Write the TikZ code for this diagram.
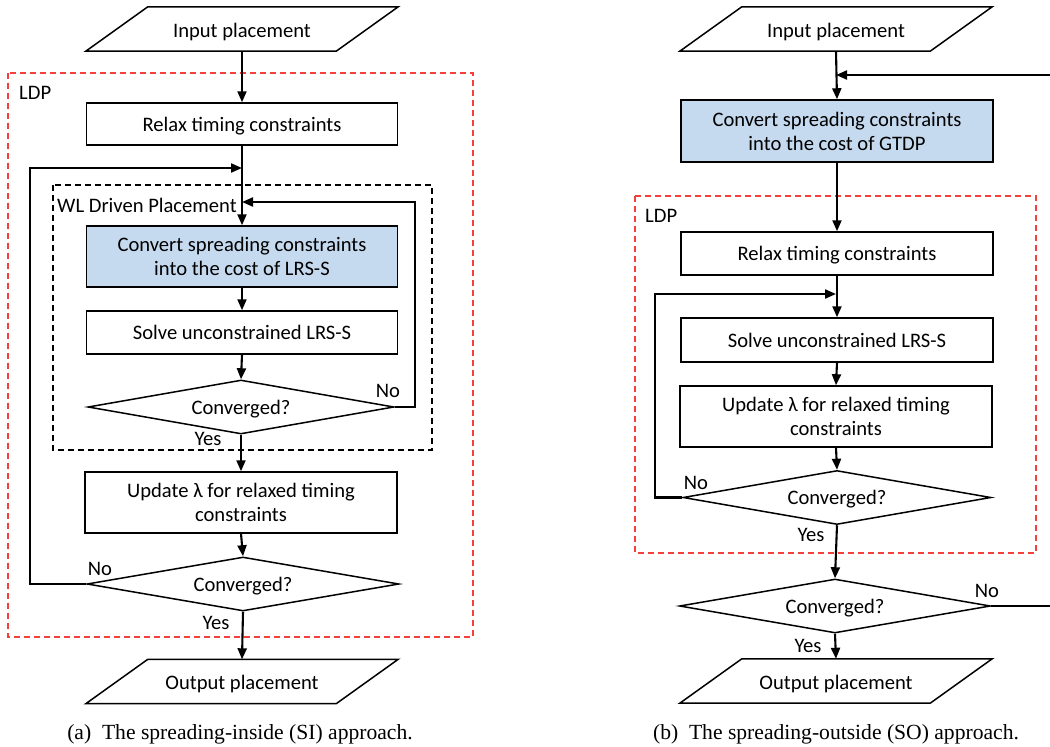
\documentclass[tikz,border=0pt]{standalone}
\usepackage{fontspec}
\setmainfont{Carlito}
\newfontfamily\capfont{Liberation Serif}
\usetikzlibrary{arrows.meta,calc,shapes.geometric}
\definecolor{boxblue}{RGB}{198,218,239}
\definecolor{ldpred}{RGB}{243,64,58}
\begin{document}
\begin{tikzpicture}[x=1pt,y=-1pt,
  font=\fontsize{20.6}{24}\selectfont,
  proc/.style={draw, line width=1.5pt, minimum width=311pt, align=center, inner sep=0pt, text depth=0pt},
  twoline/.style={execute at begin node={\rule{0pt}{20pt}}},
  bluebox/.style={proc, fill=boxblue},
  dec/.style={draw, line width=1.5pt, diamond, aspect=5.7, inner sep=0pt, text depth=0pt, minimum width=308pt, minimum height=54pt},
  io/.style={minimum width=250pt, minimum height=44pt, inner sep=0pt, text depth=0pt},
  para/.style={line width=1.5pt, line join=miter},
  arr/.style={line width=2.1pt, -{Triangle[length=11pt,width=9pt]}},
  ln/.style={line width=2.1pt},
  ldp/.style={draw=ldpred, line width=1.5pt, dash pattern=on 6pt off 4pt},
  wl/.style={draw=black, line width=1.4pt, dash pattern=on 6pt off 4pt},
  lbl/.style={inner sep=0pt},
  figcap/.style={font=\capfont\fontsize{21.6}{24}\selectfont, inner sep=0pt}
]
\useasboundingbox (0,0) rectangle (1050,747);

% ---------------- (a) ----------------
\draw[ldp] (8,73) rectangle (473,637);
\node[lbl, anchor=west] (ldpA) at (19,93) {LDP};
\draw[wl] (53,185) rectangle (432,450);
\node[lbl, anchor=west] (wlA) at (57,205) {WL Driven Placement};

\node[io] (inA) at (242,30) {Input placement};
\draw[para] ($(inA.north west)+(31,-1)$) -- ($(inA.north east)+(31,-1)$) -- ($(inA.south east)+(-31,-1)$) -- ($(inA.south west)+(-31,-1)$) -- cycle;
\node[proc, minimum height=42pt] (relaxA) at (242,124) {Relax timing constraints};
\node[bluebox, twoline, minimum height=61pt] (convA) at (242,256.5) {Convert spreading constraints\\into the cost of LRS-S};
\node[proc, minimum height=43pt] (solveA) at (242,332.5) {Solve unconstrained LRS-S};
\node[dec, minimum width=306pt] (decA1) at (241,407) {Converged?};
\node[proc, twoline, minimum width=312pt, minimum height=61pt] (updA) at (241,502.5) {Update λ for relaxed timing\\constraints};
\node[dec, minimum width=312pt] (decA2) at (243,584) {Converged?};
\node[io] (outA) at (242,682.5) {Output placement};
\draw[para] ($(outA.north west)+(31,-1)$) -- ($(outA.north east)+(31,-1)$) -- ($(outA.south east)+(-31,-1)$) -- ($(outA.south west)+(-31,-1)$) -- cycle;

\coordinate (jA1) at (242,202);
\coordinate (jA2) at (242,168);
\draw[arr] ($(inA.south)+(0,-1)$) -- (relaxA.north);
\draw[arr] (relaxA.south) -- (convA.north);
\draw[arr] (convA.south) -- (solveA.north);
\draw[arr] (solveA.south) -- (decA1.north);
\draw[arr] (decA1.south) -- (updA.north);
\draw[arr] (updA.south) -- (decA2.north);
\draw[arr] (decA2.south) -- ($(outA.north)+(0,-1)$);
\draw[arr] (decA1.east) -- ++(20,0) |- (jA1);
\draw[arr] (decA2.west) -- ++(-56,0) |- (jA2);

\node[lbl] (noA1) at (388,391) {No};
\node[lbl] (yesA1) at (208,439) {Yes};
\node[lbl] (noA2) at (100,569) {No};
\node[lbl] (yesA2) at (216,623) {Yes};

\node[figcap] (capA) at (240,734) {(a)\ \ The spreading-inside (SI) approach.};

% ---------------- (b) ----------------
\draw[ldp] (635,196) rectangle (1036,553);
\node[lbl, anchor=west] (ldpB) at (645,216) {LDP};

\node[io] (inB) at (836,30) {Input placement};
\draw[para] ($(inB.north west)+(31,-1)$) -- ($(inB.north east)+(31,-1)$) -- ($(inB.south east)+(-31,-1)$) -- ($(inB.south west)+(-31,-1)$) -- cycle;
\node[bluebox, twoline, minimum width=312pt, minimum height=62pt] (convB) at (837,131) {Convert spreading constraints\\into the cost of GTDP};
\node[proc, minimum width=312pt, minimum height=43pt] (relaxB) at (837,253.5) {Relax timing constraints};
\node[proc, minimum width=312pt, minimum height=44pt] (solveB) at (837,340) {Solve unconstrained LRS-S};
\node[proc, twoline, minimum width=312pt, minimum height=61pt] (updB) at (836,416.5) {Update λ for relaxed timing\\constraints};
\node[dec] (decB1) at (837,497.5) {Converged?};
\node[dec, minimum width=311pt] (decB2) at (835,606) {Converged?};
\node[io] (outB) at (836,682) {Output placement};
\draw[para] ($(outB.north west)+(31,-1)$) -- ($(outB.north east)+(31,-1)$) -- ($(outB.south east)+(-31,-1)$) -- ($(outB.south west)+(-31,-1)$) -- cycle;

\coordinate (jB1) at (836,294);
\coordinate (jB2) at (836,75);
\coordinate (eB1) at (1050,606);
\coordinate (eB2) at (1050,75);
\draw[arr] ($(inB.south)+(0,-1)$) -- (convB.north);
\draw[arr] (convB.south) -- (relaxB.north);
\draw[arr] (relaxB.south) -- (solveB.north);
\draw[arr] (solveB.south) -- (updB.north);
\draw[arr] (updB.south) -- (decB1.north);
\draw[arr] (decB1.south) -- (decB2.north);
\draw[arr] (decB2.south) -- ($(outB.north)+(0,-1)$);
\draw[arr] (decB1.west) -- ++(-27,0) |- (jB1);
\draw[ln] (decB2.east) -- (eB1);
\draw[arr] (eB2) -- (jB2);

\node[lbl] (noB1) at (696,483) {No};
\node[lbl] (yesB1) at (811,535) {Yes};
\node[lbl] (noB2) at (987,591) {No};
\node[lbl] (yesB2) at (808,646) {Yes};

\node[figcap] (capB) at (836,734) {(b)\ \ The spreading-outside (SO) approach.};
\end{tikzpicture}
\end{document}
